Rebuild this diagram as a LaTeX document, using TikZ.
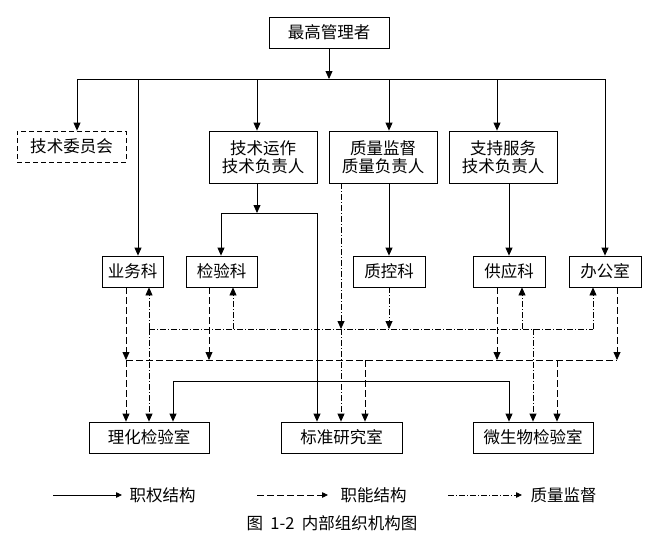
\documentclass[tikz,border=0pt]{standalone}
\usepackage{fontspec}
\setmainfont{Noto Sans CJK SC}
\usetikzlibrary{arrows.meta,calc}
\begin{document}
\begin{tikzpicture}[x=1pt,y=-1pt,
  every node/.style={font=\fontsize{16.5}{18}\selectfont},
  box/.style={draw,line width=0.8pt,inner sep=0pt,align=center,minimum height=31pt},
  tall/.style={box,minimum height=52pt,minimum width=108pt},
  arr/.style={line width=0.8pt,-{Triangle[length=8pt,width=7pt]}},
  larr/.style={line width=0.8pt,-{Triangle[length=6pt,width=5.5pt]}},
  ln/.style={line width=0.8pt},
  fn/.style={line width=0.8pt,dash pattern=on 7pt off 3pt},
  qs/.style={line width=0.8pt,dash pattern=on 6pt off 2pt on 1pt off 2pt}]
\useasboundingbox (0,0) rectangle (672,538);
% boxes
\node[box,minimum width=120pt] (top) at (329,32.5) {最高管理者};
\node[box,minimum width=109pt,dash pattern=on 5pt off 3pt] (wy) at (71.5,146.5) {技术委员会};
\node[tall] (js) at (263,157) {技术运作\\技术负责人};
\node[tall] (zl) at (383,157) {质量监督\\质量负责人};
\node[tall] (zc) at (503,157) {支持服务\\技术负责人};
\node[box,minimum width=61pt] (yw) at (132.5,271.5) {业务科};
\node[box,minimum width=71pt] (jy) at (221.5,271.5) {检验科};
\node[box,minimum width=72pt] (zk) at (389,271.5) {质控科};
\node[box,minimum width=72pt] (gy) at (509,271.5) {供应科};
\node[box,minimum width=72pt] (bg) at (605,271.5) {办公室};
\node[box,minimum width=120pt] (lh) at (149,437.5) {理化检验室};
\node[box,minimum width=121pt] (bz) at (341.5,437.5) {标准研究室};
\node[box,minimum width=120pt] (ws) at (533,437.5) {微生物检验室};
% top bus
\coordinate (bL) at (77,79);
\coordinate (bYW) at (138,79);
\coordinate (bJS) at (257,79);
\coordinate (bZL) at (389,79);
\coordinate (bZC) at (497,79);
\coordinate (bR) at (605,79);
\draw[arr] (top.south) -- (top.south |- bL);
\draw[ln] (bL) -- (bR);
\draw[arr] (bL) -- (bL |- wy.north);
\draw[arr] (bYW) -- (bYW |- yw.north);
\draw[arr] (bJS) -- (bJS |- js.north);
\draw[arr] (bZL) -- (bZL |- zl.north);
\draw[arr] (bZC) -- (bZC |- zc.north);
\draw[arr] (bR) -- (bR |- bg.north);
% technical branch
\coordinate (j1) at (221,213);
\coordinate (j2) at (317,213);
\draw[arr] (bJS |- js.south) -- (bJS |- j1);
\draw[ln] (j1) -- (j2);
\draw[arr] (j1) -- (j1 |- jy.north);
\draw[arr] (j2) -- (j2 |- bz.north);
\draw[arr] (zl.south -| zk) -- (zk.north);
\draw[arr] (zc.south -| gy) -- (gy.north);
% solid lower line
\coordinate (s1) at (173,381);
\coordinate (s2) at (509,381);
\draw[ln] (s1) -- (s2);
\draw[arr] (s1) -- (s1 |- lh.north);
\draw[arr] (s2) -- (s2 |- ws.north);
% functional (dashed)
\coordinate (d1) at (126,360);
\coordinate (d3) at (209,360);
\coordinate (d5) at (365,360);
\coordinate (d4) at (497,360);
\coordinate (d6) at (557,360);
\coordinate (d2) at (617,360);
\draw[fn] (d1) -- (d2);
\draw[fn,arr] (d1 |- yw.south) -- (d1);
\draw[fn,arr] (d3 |- jy.south) -- (d3);
\draw[fn,arr] (d4 |- gy.south) -- (d4);
\draw[fn,arr] (d2 |- bg.south) -- (d2);
\draw[fn,arr] (d1) -- (d1 |- lh.north);
\draw[fn,arr] (d5) -- (d5 |- bz.north);
\draw[fn,arr] (d6) -- (d6 |- ws.north);
% quality supervision (dash-dot)
\coordinate (q1) at (149,329);
\coordinate (q3) at (233,329);
\coordinate (q4) at (341,329);
\coordinate (q5) at (389,329);
\coordinate (q6) at (522,329);
\coordinate (q7) at (533,329);
\coordinate (q2) at (593,329);
\draw[qs] (q1) -- (q2);
\draw[qs,arr] (q1) -- (q1 |- yw.south);
\draw[qs,arr] (q1) -- (q1 |- lh.north);
\draw[qs,arr] (q3) -- (q3 |- jy.south);
\draw[qs,arr] (q4 |- zl.south) -- (q4);
\draw[qs,arr] (q4) -- (q4 |- bz.north);
\draw[qs,arr] (zk.south) -- (q5);
\draw[qs,arr] (q6) -- (q6 |- gy.south);
\draw[qs,arr] (q7) -- (q7 |- ws.north);
\draw[qs,arr] (q2) -- (q2 |- bg.south);
% legend
\coordinate (la1) at (53,495); \coordinate (la2) at (122,495);
\coordinate (lb1) at (257,495); \coordinate (lb2) at (328,495);
\coordinate (lc1) at (448,495); \coordinate (lc2) at (522,495);
\draw[larr] (la1) -- (la2);
\draw[fn,larr] (lb1) -- (lb2);
\draw[qs,larr] (lc1) -- (lc2);
\node (lt1) at (162.5,495) {职权结构};
\node (lt2) at (373.5,495) {职能结构};
\node (lt3) at (563.5,495) {质量监督};
\node (cap) at (332,523) {图\hspace{0.45em}1-2\hspace{0.45em}内部组织机构图};
\end{tikzpicture}
\end{document}
